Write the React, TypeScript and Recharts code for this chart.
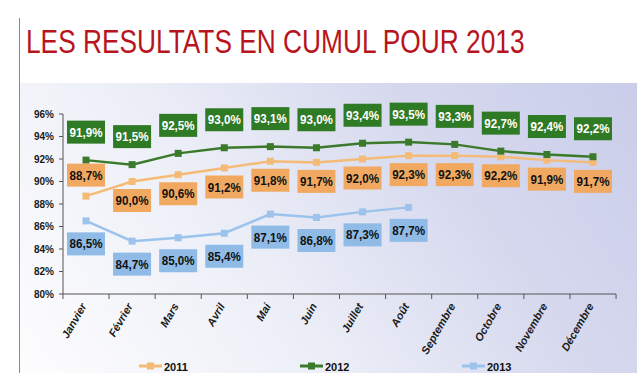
import { LineChart, Line, XAxis, YAxis, LabelList } from 'recharts';

// Cumulative monthly results, 2011-2013, in percent.
const months = ['Janvier', 'Février', 'Mars', 'Avril', 'Mai', 'Juin', 'Juillet', 'Août', 'Septembre', 'Octobre', 'Novembre', 'Décembre'];
const values2011 = [88.7, 90.0, 90.6, 91.2, 91.8, 91.7, 92.0, 92.3, 92.3, 92.2, 91.9, 91.7];
const values2012 = [91.9, 91.5, 92.5, 93.0, 93.1, 93.0, 93.4, 93.5, 93.3, 92.7, 92.4, 92.2];
const values2013 = [86.5, 84.7, 85.0, 85.4, 87.1, 86.8, 87.3, 87.7, null, null, null, null];
const yTicks = [80, 82, 84, 86, 88, 90, 92, 94, 96];

const data = months.map((m, i) => ({
  month: m,
  y2011: values2011[i],
  y2012: values2012[i],
  y2013: values2013[i],
}));

const FONT = 'Arial, "Liberation Sans", sans-serif';
const STEP = 46.08;

const C2011 = { line: '#f5bb76', box: '#f1a962', text: '#111' };
const C2012 = { line: '#3b7a2a', box: '#2f7a25', text: '#fff' };
const C2013 = { line: '#9cc3ec', box: '#8fbbe6', text: '#111' };

const fmt = (v: number) => v.toFixed(1).replace('.', ',') + '%';

function makeLabel(colors: { box: string; text: string }, offset: (i: number) => number) {
  return (props: any) => {
    const { x, y, value, index } = props;
    if (value == null || x == null || y == null) return null;
    const cy = y + offset(index);
    return (
      <g>
        <rect x={x - 19} y={cy - 11.5} width={38} height={23} fill={colors.box} />
        <text
          x={x}
          y={cy + 4.5}
          textAnchor="middle"
          fontFamily={FONT}
          fontWeight="bold"
          fontSize={12.5}
          fill={colors.text}
          textLength={33}
          lengthAdjust="spacingAndGlyphs"
        >
          {fmt(value)}
        </text>
      </g>
    );
  };
}

function makeDot(color: string) {
  return (props: any) => {
    const { cx, cy, index } = props;
    if (cx == null || cy == null) return <g key={index} />;
    return <rect key={index} x={cx - 3.5} y={cy - 3.5} width={7} height={7} fill={color} />;
  };
}

function MonthTick(props: any) {
  const { x, y, payload, index } = props;
  const last = index === months.length - 1;
  return (
    <g>
      <line x1={x - STEP / 2} y1={y - 5} x2={x - STEP / 2} y2={y} stroke="#555" />
      {last && <line x1={x + STEP / 2} y1={y - 5} x2={x + STEP / 2} y2={y} stroke="#555" />}
      <text
        x={x + 1}
        y={y + 7}
        transform={`rotate(-60, ${x + 1}, ${y + 7})`}
        textAnchor="end"
        fontFamily={FONT}
        fontSize={11}
        fontWeight="bold"
        fontStyle="italic"
        fill="#1a1a1a"
      >
        {payload.value}
      </text>
    </g>
  );
}

function LegendItem({ x, color, label }: { x: number; color: string; label: string }) {
  return (
    <g>
      <line x1={x} y1={366} x2={x + 23} y2={366} stroke={color} strokeWidth={3} />
      <rect x={x + 8} y={362.5} width={7} height={7} fill={color} />
      <text x={x + 25} y={370.5} fontFamily={FONT} fontSize={11} fontWeight="bold" fill="#111">
        {label}
      </text>
    </g>
  );
}

export default function App() {
  return (
    <div style={{ position: 'absolute', left: 0, top: 0, width: 640, height: 391, background: '#fff', overflow: 'hidden' }}>
      <div
        style={{
          position: 'absolute',
          left: 19,
          top: 83,
          width: 618,
          height: 290,
          background: 'linear-gradient(55deg, #fdfdfe 0%, #eef0f8 35%, #d6d9ee 70%, #c9cde9 100%)',
        }}
      />
      <div style={{ position: 'absolute', left: 0, top: 0 }}>
        <LineChart width={640} height={391} data={data} margin={{ top: 114, right: 24, bottom: 37, left: 18 }}>
          <XAxis
            dataKey="month"
            interval={0}
            padding={{ left: 23, right: 23 }}
            tickLine={false}
            tickSize={5}
            tickMargin={0}
            height={60}
            axisLine={{ stroke: '#555' }}
            tick={<MonthTick />}
          />
          <YAxis
            domain={[80, 96]}
            ticks={yTicks}
            width={45}
            tickSize={4}
            tickMargin={5}
            tickFormatter={(v: number) => v + '%'}
            axisLine={{ stroke: '#555' }}
            tickLine={{ stroke: '#555' }}
            tick={{ fill: '#1a1a1a', fontSize: 10, fontWeight: 'bold', fontFamily: FONT }}
          />
          <Line
            dataKey="y2011"
            stroke={C2011.line}
            strokeWidth={2.5}
            dot={makeDot(C2011.line)}
            activeDot={false}
            isAnimationActive={false}
          >
            <LabelList dataKey="y2011" content={makeLabel(C2011, (i) => (i === 0 ? -21 : 19))} />
          </Line>
          <Line
            dataKey="y2012"
            stroke={C2012.line}
            strokeWidth={2.5}
            dot={makeDot(C2012.line)}
            activeDot={false}
            isAnimationActive={false}
          >
            <LabelList dataKey="y2012" content={makeLabel(C2012, () => -28)} />
          </Line>
          <Line
            dataKey="y2013"
            stroke={C2013.line}
            strokeWidth={2.5}
            dot={makeDot(C2013.line)}
            activeDot={false}
            isAnimationActive={false}
            connectNulls={false}
          >
            <LabelList dataKey="y2013" content={makeLabel(C2013, () => 23)} />
          </Line>
        </LineChart>
      </div>
      <svg width={640} height={391} style={{ position: 'absolute', left: 0, top: 0, pointerEvents: 'none' }}>
        <line x1={19.5} y1={18} x2={19.5} y2={373} stroke="#888" strokeWidth={1} />
        <text
          transform="translate(26, 53) scale(1, 1.25)"
          x={0}
          y={0}
          fontFamily={FONT}
          fontSize={26.3}
          fill="#b8141d"
        >
          LES RESULTATS EN CUMUL POUR 2013
        </text>
        <LegendItem x={139} color={C2011.line} label="2011" />
        <LegendItem x={300} color={C2012.line} label="2012" />
        <LegendItem x={462} color={C2013.line} label="2013" />
      </svg>
    </div>
  );
}
